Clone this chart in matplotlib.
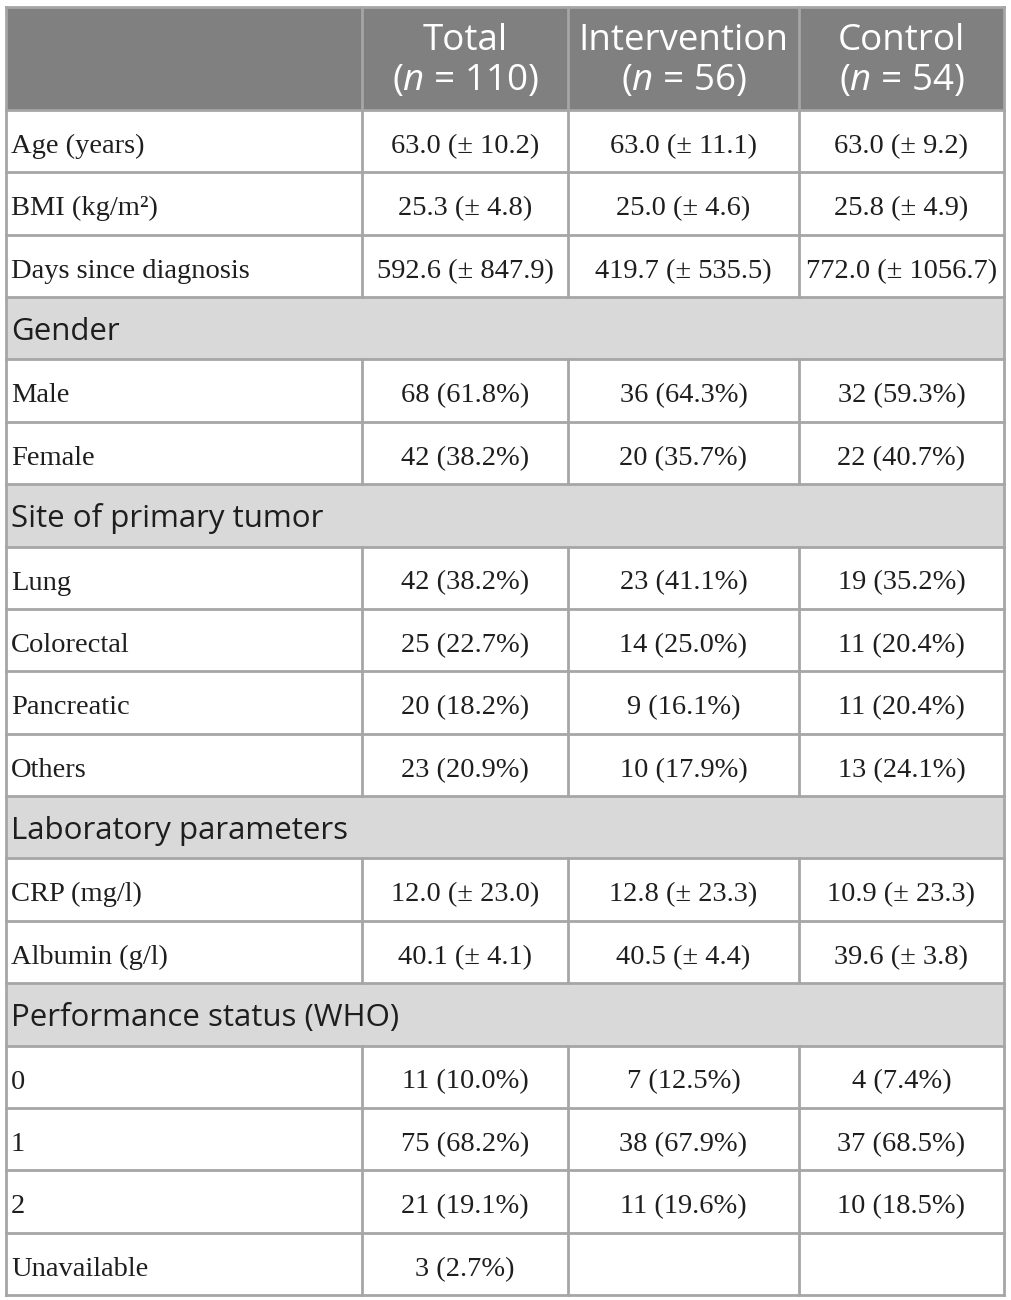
import matplotlib
matplotlib.use("Agg")
import matplotlib.pyplot as plt
from matplotlib.patches import Rectangle

plt.rcParams['mathtext.fontset'] = 'custom'
plt.rcParams['mathtext.it'] = 'Open Sans:italic'
plt.rcParams['mathtext.rm'] = 'Open Sans'

headers = ["Total", "Intervention", "Control"]
header_n = ["110", "56", "54"]

row_labels = ["Age (years)", "BMI (kg/m²)", "Days since diagnosis",
              "Gender", "Male", "Female",
              "Site of primary tumor", "Lung", "Colorectal", "Pancreatic", "Others",
              "Laboratory parameters", "CRP (mg/l)", "Albumin (g/l)",
              "Performance status (WHO)", "0", "1", "2", "Unavailable"]
is_section = [False, False, False,
              True, False, False,
              True, False, False, False, False,
              True, False, False,
              True, False, False, False, False]
total = ["63.0 (± 10.2)", "25.3 (± 4.8)", "592.6 (± 847.9)",
         "", "68 (61.8%)", "42 (38.2%)",
         "", "42 (38.2%)", "25 (22.7%)", "20 (18.2%)", "23 (20.9%)",
         "", "12.0 (± 23.0)", "40.1 (± 4.1)",
         "", "11 (10.0%)", "75 (68.2%)", "21 (19.1%)", "3 (2.7%)"]
intervention = ["63.0 (± 11.1)", "25.0 (± 4.6)", "419.7 (± 535.5)",
                "", "36 (64.3%)", "20 (35.7%)",
                "", "23 (41.1%)", "14 (25.0%)", "9 (16.1%)", "10 (17.9%)",
                "", "12.8 (± 23.3)", "40.5 (± 4.4)",
                "", "7 (12.5%)", "38 (67.9%)", "11 (19.6%)", ""]
control = ["63.0 (± 9.2)", "25.8 (± 4.9)", "772.0 (± 1056.7)",
           "", "32 (59.3%)", "22 (40.7%)",
           "", "19 (35.2%)", "11 (20.4%)", "11 (20.4%)", "13 (24.1%)",
           "", "10.9 (± 23.3)", "39.6 (± 3.8)",
           "", "4 (7.4%)", "37 (68.5%)", "10 (18.5%)", ""]

W, H = 1012, 1300
fig = plt.figure(figsize=(W / 100, H / 100), dpi=100)
ax = fig.add_axes([0, 0, 1, 1])
ax.set_xlim(0, W)
ax.set_ylim(H, 0)
ax.axis('off')

col_edges = [6, 362, 568, 799, 1004]
top = 7
header_bottom = 110
row_h = (1295 - header_bottom) / len(row_labels)
bottom = header_bottom + row_h * len(row_labels)

line_c = '#a6a6a6'
header_c = '#808080'
section_c = '#d9d9d9'
text_c = '#1e1e1e'
lw = 2.0

serif = 'Liberation Serif'
sans = 'Open Sans'

# header background
ax.add_patch(Rectangle((col_edges[0], top), col_edges[-1] - col_edges[0],
                       header_bottom - top, facecolor=header_c, edgecolor='none', zorder=1))
for i, (h, n) in enumerate(zip(headers, header_n)):
    cx = (col_edges[i + 1] + col_edges[i + 2]) / 2
    ax.text(cx, top + 43, h, ha='center', va='baseline', color='white',
            fontsize=26.5, family=sans, zorder=3)
    ax.text(cx, top + 83, r"($n$ = " + n + ")", ha='center', va='baseline', color='white',
            fontsize=26.5, family=sans, zorder=3)

# rows
for r, lab in enumerate(row_labels):
    y0 = header_bottom + r * row_h
    base = y0 + 43
    if is_section[r]:
        ax.add_patch(Rectangle((col_edges[0], y0), col_edges[-1] - col_edges[0], row_h,
                               facecolor=section_c, edgecolor='none', zorder=1))
        ax.text(11, base, lab, ha='left', va='baseline', color=text_c,
                fontsize=22.5, family=sans, zorder=3)
    else:
        ax.text(11, base, lab, ha='left', va='baseline', color=text_c,
                fontsize=20.5, family=serif, zorder=3)
        for c, vals in enumerate([total, intervention, control]):
            cx = (col_edges[c + 1] + col_edges[c + 2]) / 2
            ax.text(cx, base, vals[r], ha='center', va='baseline', color=text_c,
                    fontsize=20.5, family=serif, zorder=3)

# horizontal lines
ys = [top, header_bottom] + [header_bottom + (r + 1) * row_h for r in range(len(row_labels))]
for y in ys:
    ax.plot([col_edges[0], col_edges[-1]], [y, y], color=line_c, lw=lw, zorder=2,
            solid_capstyle='projecting')

# vertical lines
ax.plot([col_edges[0]] * 2, [top, bottom], color=line_c, lw=lw, zorder=2)
ax.plot([col_edges[-1]] * 2, [top, bottom], color=line_c, lw=lw, zorder=2)
for x in col_edges[1:-1]:
    ax.plot([x, x], [top, header_bottom], color=line_c, lw=lw, zorder=2)
    for r in range(len(row_labels)):
        if not is_section[r]:
            y0 = header_bottom + r * row_h
            ax.plot([x, x], [y0, y0 + row_h], color=line_c, lw=lw, zorder=2)

fig.savefig('out.png', dpi=100, facecolor='white')
